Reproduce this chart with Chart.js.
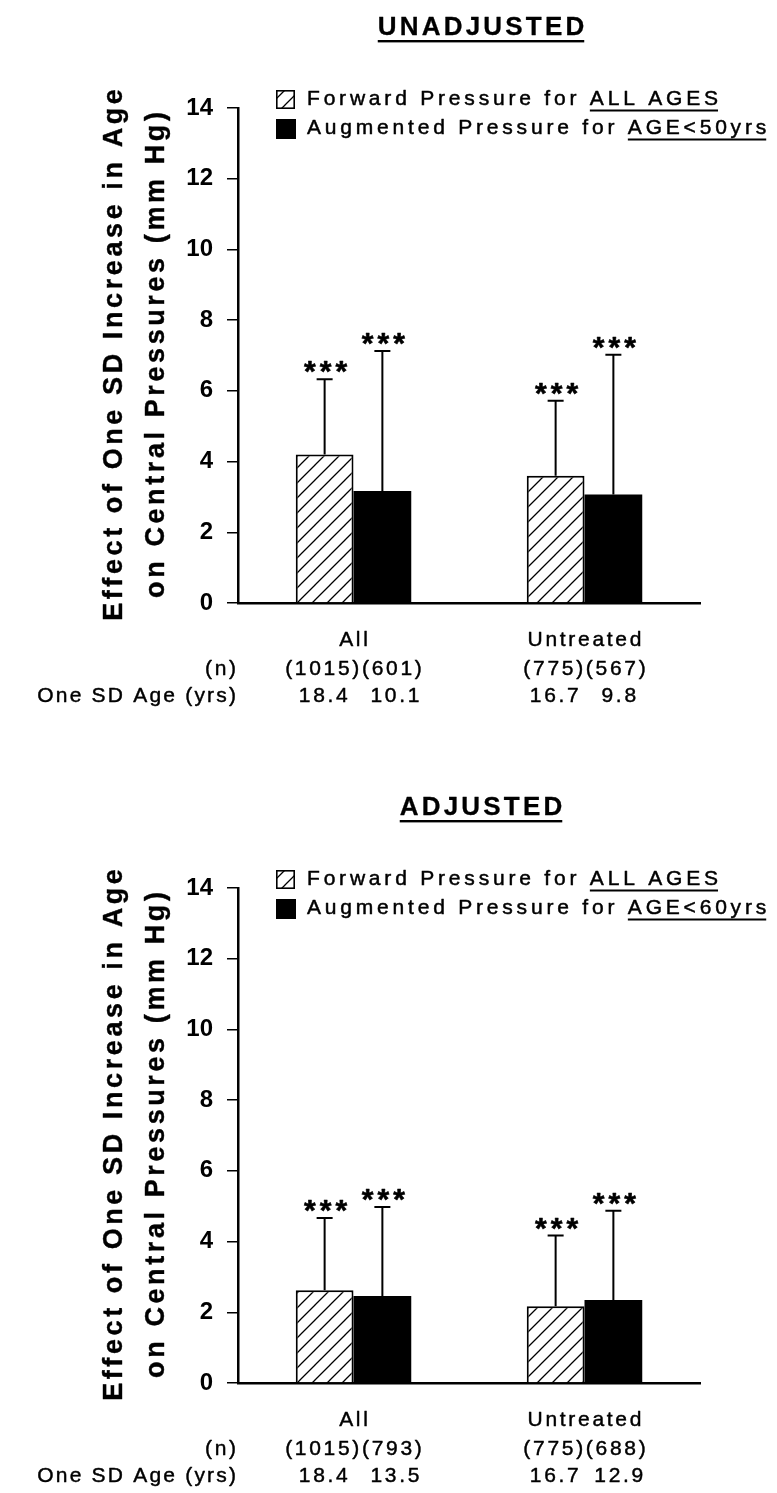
<!DOCTYPE html>
<html><head><meta charset="utf-8">
<script src="https://cdn.jsdelivr.net/npm/chart.js@4.4.1/dist/chart.umd.min.js"></script>
<style>html,body{margin:0;padding:0;background:#fff;overflow:hidden;} canvas{display:block;}</style>
</head><body>
<canvas id="c1" width="777" height="780"></canvas>
<canvas id="c2" width="777" height="713"></canvas>
<script>
// ---------- data ----------
const categories = ['All', 'Untreated'];
const yTickValues = [0, 2, 4, 6, 8, 10, 12, 14];

const unadjTitle = 'UNADJUSTED';
const unadjForward = [4.2, 3.6];
const unadjForwardSD = [2.13, 2.12];
const unadjAugmented = [3.17, 3.07];
const unadjAugmentedSD = [3.96, 3.95];
const unadjN = [['(1015)', '(601)'], ['(775)', '(567)']];
const unadjAgeSD = [['18.4', '10.1'], ['16.7', '9.8']];
const unadjLegend = [['Forward Pressure for ', 'ALL AGES'], ['Augmented Pressure for ', 'AGE<50yrs']];

const adjTitle = 'ADJUSTED';
const adjForward = [2.62, 2.17];
const adjForwardSD = [2.05, 2.0];
const adjAugmented = [2.46, 2.35];
const adjAugmentedSD = [2.52, 2.52];
const adjN = [['(1015)', '(793)'], ['(775)', '(688)']];
const adjAgeSD = [['18.4', '13.5'], ['16.7', '12.9']];
const adjLegend = [['Forward Pressure for ', 'ALL AGES'], ['Augmented Pressure for ', 'AGE<60yrs']];

const significance = ['***', '***'];
const yTitleLines = ['Effect of One SD Increase in Age', 'on Central Pressures (mm Hg)'];
const rowLabels = ['(n)', 'One SD Age (yrs)'];

// ---------- helpers ----------
const FONT = '"Liberation Sans", Arial, Helvetica, sans-serif';
const AXIS_Y = 603;   // pixel row of the value 0 line in each panel canvas
const TOP_Y = 108;    // pixel row of the value 14

function makeHatch(ctx) {
  const s = 15;
  const p = document.createElement('canvas');
  p.width = s; p.height = s;
  const g = p.getContext('2d');
  g.fillStyle = '#fff'; g.fillRect(0, 0, s, s);
  g.strokeStyle = '#000'; g.lineWidth = 1.3;
  g.beginPath();
  g.moveTo(-2, s + 2); g.lineTo(s + 2, -2);
  g.moveTo(-2, 2); g.lineTo(2, -2);
  g.moveTo(s - 2, s + 2); g.lineTo(s + 2, s - 2);
  g.stroke();
  return ctx.createPattern(p, 'repeat');
}

function textW(ctx, t, spacing) {
  ctx.letterSpacing = '0px';
  return ctx.measureText(t).width + spacing * (t.length - 1);
}
function drawT(ctx, t, x, y, font, align, spacing, stroke, base) {
  ctx.save();
  ctx.font = font;
  const w = textW(ctx, t, spacing);
  let x0 = x;
  if (align === 'center') x0 = x - w / 2;
  else if (align === 'right') x0 = x - w;
  ctx.letterSpacing = spacing + 'px';
  ctx.textAlign = 'left';
  ctx.textBaseline = base || 'middle';
  ctx.fillStyle = '#000';
  ctx.fillText(t, x0, y);
  if (stroke) {
    ctx.strokeStyle = '#000';
    ctx.lineWidth = stroke;
    ctx.lineJoin = 'round';
    ctx.strokeText(t, x0, y);
  }
  ctx.restore();
  return { x0: x0, w: w };
}

function buildChart(id, cfg) {
  const canvas = document.getElementById(id);
  const ctx = canvas.getContext('2d');
  const hatch = makeHatch(ctx);

  const annot = {
    id: 'annot' + id,
    afterDraw(chart) {
      const c = chart.ctx;
      const xs = chart.scales.x, ys = chart.scales.y;

      // Title with underline
      const t = drawT(c, cfg.title, 481, 35, 'bold 26px ' + FONT, 'center', 3.2, 0.3, 'alphabetic');
      c.fillStyle = '#000';
      c.fillRect(t.x0, 40, t.w, 2.4);

      // Legend
      const legX = 276, legY = [99, 128];
      const lf = '21px ' + FONT, ls = 3.8;
      cfg.legend.forEach((parts, i) => {
        const by = legY[i] - 9;
        if (i === 0) {
          c.fillStyle = hatch; c.fillRect(legX, by, 19, 19);
          c.strokeStyle = '#000'; c.lineWidth = 1.6; c.strokeRect(legX + 0.8, by + 0.8, 17.4, 17.4);
        } else {
          c.fillStyle = '#000'; c.fillRect(legX, by, 20, 20);
        }
        const a = drawT(c, parts[0], 307, legY[i], lf, 'left', ls, 0.5);
        const b = drawT(c, parts[1], a.x0 + a.w + ls, legY[i], lf, 'left', ls, 0.5);
        c.fillStyle = '#000';
        c.fillRect(b.x0, legY[i] + 10.5, b.w, 2);
      });

      // Y title (two rotated lines, baselines at given x)
      [122, 164].forEach((x, i) => {
        c.save();
        c.translate(x, 355);
        c.rotate(-Math.PI / 2);
        drawT(c, yTitleLines[i], 0, 0, 'bold 27px ' + FONT, 'center', 3.6, 0.4, 'alphabetic');
        c.restore();
      });

      // Error bars (upper only) and significance stars
      const sds = [cfg.fwdSD, cfg.augSD];
      const vals = [cfg.fwd, cfg.aug];
      [0, 1].forEach(di => {
        const meta = chart.getDatasetMeta(di);
        meta.data.forEach((el, j) => {
          const top = ys.getPixelForValue(vals[di][j] + sds[di][j]);
          c.strokeStyle = '#000';
          c.lineWidth = 2;
          c.beginPath();
          c.moveTo(el.x, el.y);
          c.lineTo(el.x, top);
          c.moveTo(el.x - 8, top);
          c.lineTo(el.x + 8, top);
          c.stroke();
          drawT(c, significance[di], el.x + 1, top - 6, 'bold 30px ' + FONT, 'center', 4, 0.6);
        });
      });

      // Category labels and rows below axis
      const rowY = [AXIS_Y + 37, AXIS_Y + 66, AXIS_Y + 93];
      const rf = '21px ' + FONT, sp = 2.7, st = 0.45;
      drawT(c, rowLabels[0], 236, rowY[1], rf, 'right', sp, st);
      drawT(c, rowLabels[1], 236, rowY[2], rf, 'right', 2.2, st);
      categories.forEach((cat, i) => {
        const cx = xs.getPixelForValue(i);
        drawT(c, cat, cx, rowY[0], rf, 'center', sp, st);
        c.font = rf;
        const full = cfg.n[i][0] + cfg.n[i][1];
        const wf = textW(c, full, sp);
        const w0 = textW(c, cfg.n[i][0], sp);
        const start = cx - wf / 2;
        drawT(c, full, cx, rowY[1], rf, 'center', sp, st);
        const c0 = start + w0 / 2;
        const c1 = start + w0 + sp + (wf - w0 - sp) / 2;
        drawT(c, cfg.sd[i][0], c0 + 1, rowY[2], rf, 'center', sp, st);
        drawT(c, cfg.sd[i][1], c1 + 3, rowY[2], rf, 'center', sp, st);
      });
    }
  };

  return new Chart(ctx, {
    type: 'bar',
    data: {
      labels: categories,
      datasets: [
        { label: cfg.legend[0].join(''), data: cfg.fwd, backgroundColor: hatch, borderColor: '#000', borderWidth: 2, borderSkipped: 'bottom' },
        { label: cfg.legend[1].join(''), data: cfg.aug, backgroundColor: '#000', borderColor: '#000', borderWidth: 0 }
      ]
    },
    options: {
      responsive: false,
      animation: false,
      devicePixelRatio: 1,
      layout: { padding: { left: 0, right: 77, top: TOP_Y, bottom: 0 } },
      datasets: { bar: { categoryPercentage: 0.5, barPercentage: 1.0 } },
      plugins: { legend: { display: false }, tooltip: { enabled: false }, title: { display: false } },
      scales: {
        x: {
          type: 'category',
          offset: true,
          grid: { display: false },
          border: { display: true, color: '#000', width: 2.5 },
          ticks: { display: false },
          afterFit(s) { s.height = s.chart.height - AXIS_Y; }
        },
        y: {
          min: 0, max: 14,
          afterBuildTicks(s) { s.ticks = yTickValues.map(v => ({ value: v })); },
          ticks: { color: '#000', font: { family: FONT, size: 24, weight: 'bold' }, padding: 14 },
          grid: { drawOnChartArea: false, drawTicks: true, tickLength: 11, color: '#000', lineWidth: 1.5 },
          border: { display: true, color: '#000', width: 2.5 },
          afterFit(s) { s.width = 238; }
        }
      }
    },
    plugins: [annot]
  });
}

buildChart('c1', {
  title: unadjTitle, legend: unadjLegend,
  fwd: unadjForward, fwdSD: unadjForwardSD, aug: unadjAugmented, augSD: unadjAugmentedSD,
  n: unadjN, sd: unadjAgeSD
});
buildChart('c2', {
  title: adjTitle, legend: adjLegend,
  fwd: adjForward, fwdSD: adjForwardSD, aug: adjAugmented, augSD: adjAugmentedSD,
  n: adjN, sd: adjAgeSD
});
</script>
</body></html>
